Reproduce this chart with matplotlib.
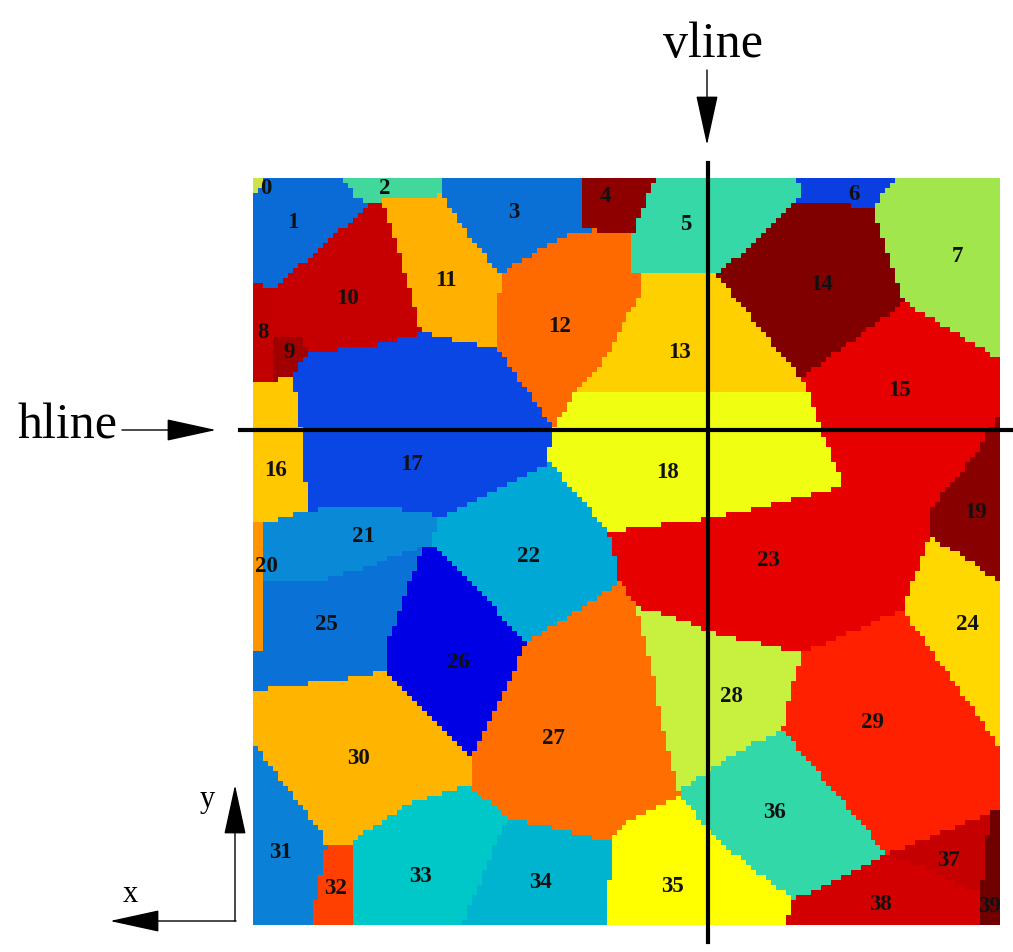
import numpy as np
import matplotlib
matplotlib.use("Agg")
import matplotlib.pyplot as plt
from matplotlib.path import Path

# grain label positions (pixel coords of the picture)
grain_ids = list(range(40))
label_x = [266, 293, 385, 514, 605, 686, 854, 957, 263, 289,
           348, 446, 560, 680, 822, 899, 276, 411, 667, 976,
           266, 363, 529, 768, 967, 326, 458, 553, 731, 872,
           358, 281, 336, 421, 540, 673, 774, 948, 880, 990]
label_y = [188, 222, 188, 213, 197, 225, 195, 256, 332, 352,
           298, 280, 327, 352, 285, 390, 470, 465, 473, 512,
           566, 536, 557, 560, 625, 625, 662, 738, 697, 723,
           758, 853, 888, 876, 882, 887, 813, 860, 905, 907]
grain_color = ["#cfe24a", "#0b6bd6", "#42d89c", "#0a70d6", "#8e0000",
               "#36d8a8", "#0a3ee0", "#a2e64e", "#c20000", "#a00000",
               "#c60000", "#ffb000", "#ff6a00", "#ffd000", "#800000",
               "#e60000", "#ffc800", "#0a46e4", "#f0ff12", "#880000",
               "#ff9400", "#0a8ad6", "#00a8d6", "#e60000", "#ffd800",
               "#0a72d6", "#0000e4", "#ff6e00", "#c8f03e", "#ff2000",
               "#ffb400", "#0a80d6", "#ff4000", "#00c8c8", "#00b4d0",
               "#ffff00", "#32d8a8", "#c40000", "#d20000", "#700000"]

# grain outlines (pixel coords)
grain_outline = {
    0: [(253, 178), (265, 178), (262, 190), (253, 192)],
    1: [(265, 178), (342, 178), (358, 200), (373, 202), (273, 288), (253, 282), (253, 192), (262, 190)],
    2: [(342, 178), (445, 178), (443, 195), (383, 200), (373, 202), (358, 200)],
    3: [(445, 178), (580, 178), (580, 230), (593, 230), (560, 237), (500, 273), (470, 237), (443, 195)],
    4: [(580, 178), (655, 178), (633, 233), (593, 230), (580, 230)],
    5: [(655, 178), (795, 178), (802, 193), (797, 202), (717, 275), (633, 275), (633, 233)],
    6: [(795, 178), (895, 178), (873, 207), (797, 202), (802, 193)],
    7: [(895, 178), (1000, 178), (1000, 360), (905, 303), (893, 267), (873, 207)],
    8: [(253, 282), (273, 288), (275, 337), (275, 380), (253, 380)],
    9: [(275, 337), (300, 335), (307, 353), (293, 377), (275, 380)],
    10: [(373, 202), (383, 200), (393, 230), (422, 333), (397, 340), (367, 347), (307, 353),
         (300, 335), (275, 337), (273, 288)],
    11: [(383, 200), (443, 195), (470, 237), (500, 273), (498, 350), (422, 333), (393, 230)],
    12: [(500, 273), (560, 237), (593, 230), (633, 233), (633, 275), (642, 275), (640, 295),
         (600, 367), (575, 392), (553, 428), (498, 350)],
    13: [(642, 275), (717, 275), (800, 378), (808, 392), (575, 392), (600, 367), (640, 295)],
    14: [(717, 275), (797, 202), (873, 207), (893, 267), (905, 303), (800, 378)],
    15: [(800, 378), (905, 303), (1000, 360), (1000, 413), (973, 457), (900, 470), (843, 483),
         (833, 460), (820, 427), (808, 392)],
    16: [(253, 380), (275, 380), (293, 377), (303, 443), (307, 510), (267, 522), (253, 522)],
    17: [(293, 377), (307, 353), (367, 347), (397, 340), (422, 333), (498, 350), (553, 428),
         (547, 460), (550, 463), (437, 520), (427, 510), (340, 507), (307, 510), (303, 443)],
    18: [(575, 392), (808, 392), (820, 427), (833, 460), (843, 483), (827, 490), (787, 500),
         (750, 510), (707, 518), (620, 530), (607, 530), (550, 463), (547, 460), (553, 428)],
    19: [(1000, 413), (1000, 583), (953, 550), (930, 537), (933, 505), (973, 457)],
    20: [(253, 522), (267, 522), (263, 527), (263, 653), (253, 653)],
    21: [(263, 527), (267, 522), (307, 510), (340, 507), (427, 510), (437, 520), (433, 543),
         (423, 547), (367, 567), (313, 583), (263, 580)],
    22: [(437, 520), (550, 463), (607, 530), (620, 583), (527, 643), (433, 543)],
    23: [(607, 530), (620, 530), (707, 518), (750, 510), (787, 500), (827, 490), (843, 483),
         (900, 470), (973, 457), (933, 505), (930, 537), (903, 610), (803, 653), (707, 632),
         (683, 620), (637, 607), (620, 583)],
    24: [(930, 537), (953, 550), (1000, 583), (1000, 747), (953, 680), (903, 610)],
    25: [(263, 580), (313, 583), (367, 567), (423, 547), (397, 620), (387, 640), (387, 670),
         (340, 680), (253, 690), (253, 653), (263, 653)],
    26: [(433, 543), (527, 643), (471, 757), (393, 680), (387, 670), (387, 640), (397, 620), (423, 547)],
    27: [(527, 643), (620, 583), (637, 607), (653, 673), (663, 730), (680, 795), (620, 827),
         (610, 842), (507, 818), (472, 787), (471, 757)],
    28: [(637, 607), (683, 620), (707, 632), (803, 653), (793, 680), (783, 730), (753, 743),
         (713, 767), (683, 787), (680, 795), (663, 730), (653, 673)],
    29: [(803, 653), (903, 610), (953, 680), (1000, 747), (1000, 810), (887, 855), (783, 730), (793, 680)],
    30: [(253, 690), (340, 680), (387, 670), (393, 680), (471, 757), (472, 787), (459, 787),
         (410, 804), (355, 839), (355, 847), (326, 847), (321, 832), (286, 787), (253, 742)],
    31: [(253, 742), (286, 787), (321, 832), (326, 847), (310, 925), (253, 925)],
    32: [(326, 847), (355, 847), (355, 925), (310, 925)],
    33: [(355, 839), (410, 804), (459, 787), (472, 787), (507, 818), (462, 925), (355, 925)],
    34: [(507, 818), (610, 842), (608, 925), (462, 925)],
    35: [(610, 842), (620, 827), (680, 795), (713, 837), (793, 900), (785, 925), (608, 925)],
    36: [(683, 787), (713, 767), (753, 743), (783, 730), (887, 855), (793, 900), (713, 837), (680, 795)],
    37: [(887, 855), (1000, 810), (990, 812), (983, 895), (930, 870)],
    38: [(793, 900), (887, 855), (930, 870), (983, 895), (978, 925), (785, 925)],
    39: [(990, 812), (1000, 810), (1000, 925), (978, 925)],
}

map_left, map_right, map_top, map_bottom = 253, 1000, 178, 925
ncell = 150

# cell centres
step = (map_right - map_left) / ncell
cx = map_left + step * (np.arange(ncell) + 0.5)
cy = map_top + step * (np.arange(ncell) + 0.5)
gx, gy = np.meshgrid(cx, cy)
pts = np.column_stack([gx.ravel(), gy.ravel()])

# nearest label as fallback, then fill each outline
lx, ly = np.array(label_x, float), np.array(label_y, float)
owner = np.argmin((pts[:, :1] - lx) ** 2 + (pts[:, 1:] - ly) ** 2, axis=1)
for g in grain_ids:
    inside = Path(grain_outline[g]).contains_points(pts)
    owner[inside] = g
owner = owner.reshape(ncell, ncell)

rgb = np.array([matplotlib.colors.to_rgb(c) for c in grain_color])[owner]

fig = plt.figure(figsize=(10.13, 9.52), dpi=100)
ax = fig.add_axes([0, 0, 1, 1])
ax.set_xlim(0, 1013)
ax.set_ylim(952, 0)
ax.axis("off")

ax.imshow(rgb, extent=(map_left, map_right, map_bottom, map_top),
          interpolation="nearest", aspect="auto")

for g in grain_ids:
    ax.text(label_x[g], label_y[g], str(g), ha="center", va="center",
            fontsize=16.5, fontweight="bold", family="Liberation Serif", color="#111111")

# cut lines
ax.plot([708, 708], [163, 942], color="black", lw=3)
ax.plot([240, 1012], [430, 430], color="black", lw=3)

arrow = dict(arrowstyle="-|>,head_length=1.6,head_width=0.35", color="black",
             lw=1, mutation_scale=20, shrinkA=0, shrinkB=0)
ax.annotate("", xy=(707, 145), xytext=(707, 70), arrowprops=arrow)
ax.annotate("", xy=(216, 430), xytext=(122, 430), arrowprops=arrow)
ax.text(713, 45, "vline", ha="center", va="center", fontsize=36, family="Liberation Serif")
ax.text(68, 426, "hline", ha="center", va="center", fontsize=36, family="Liberation Serif")

# axes glyph
ax.annotate("", xy=(235, 785), xytext=(235, 921), arrowprops=arrow)
ax.annotate("", xy=(110, 921), xytext=(236, 921), arrowprops=arrow)
ax.text(207, 800, "y", ha="center", va="center", fontsize=22, family="Liberation Serif")
ax.text(130, 895, "x", ha="center", va="center", fontsize=22, family="Liberation Serif")

fig.savefig("out.png", dpi=100)
